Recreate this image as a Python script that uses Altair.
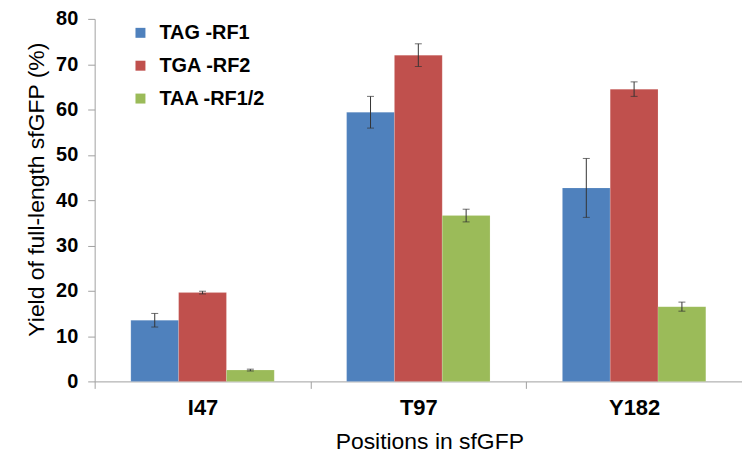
import altair as alt
import pandas as pd

positions = ["I47", "T97", "Y182"]
series = ["TAG -RF1", "TGA -RF2", "TAA -RF1/2"]
colors = ["#4F81BD", "#C0504D", "#9BBB59"]
values = {
    "TAG -RF1": [13.5, 59.4, 42.7],
    "TGA -RF2": [19.6, 72.0, 64.5],
    "TAA -RF1/2": [2.5, 36.6, 16.5],
}
errors = {
    "TAG -RF1": [1.5, 3.5, 6.5],
    "TGA -RF2": [0.3, 2.5, 1.6],
    "TAA -RF1/2": [0.2, 1.4, 1.0],
}

rows = []
for s in series:
    for i, p in enumerate(positions):
        v = values[s][i]
        e = errors[s][i]
        rows.append({"pos": p, "series": s, "value": v, "lo": v - e, "hi": v + e})
df = pd.DataFrame(rows)

FONT = "Liberation Sans"

x = alt.X("pos:N", sort=positions,
          scale=alt.Scale(paddingInner=0, paddingOuter=0),
          axis=alt.Axis(title="Positions in sfGFP", labelAngle=0, tickBand="extent",
                        labelFontSize=22, labelFontWeight="bold", labelColor="#000",
                        labelPadding=9, titleFontSize=23, titleFontWeight="normal",
                        titleColor="#000", titlePadding=12, titleX=336, tickSize=7,
                        domainColor="#A0A0A0", tickColor="#A0A0A0", grid=False,
                        labelFont=FONT, titleFont=FONT))
xoff = alt.XOffset("series:N", sort=series,
                   scale=alt.Scale(paddingOuter=0.757, paddingInner=0))

bars = alt.Chart(df).mark_bar(stroke="white", strokeOpacity=0.3, strokeWidth=0.5).encode(
    x=x,
    xOffset=xoff,
    y=alt.Y("value:Q", scale=alt.Scale(domain=[0, 80], nice=False),
            axis=alt.Axis(title="Yield of full-length sfGFP (%)", values=list(range(0, 81, 10)),
                          labelFontSize=20, labelFontWeight="bold", labelColor="#000",
                          labelPadding=10, titleFontSize=23, titleFontWeight="normal",
                          titleColor="#000", titlePadding=7, titleY=171, tickSize=7,
                          domainColor="#A0A0A0", tickColor="#A0A0A0", grid=False,
                          labelFont=FONT, titleFont=FONT)),
    color=alt.Color("series:N", sort=series,
                    scale=alt.Scale(domain=series, range=colors),
                    legend=alt.Legend(title=None, orient="none", legendX=36, legendY=4,
                                      symbolType="square", symbolSize=100,
                                      symbolStrokeWidth=0, labelFontSize=20,
                                      labelFontWeight="bold", labelFont=FONT,
                                      labelColor="#000", rowPadding=13, labelOffset=9)),
)

err = alt.Chart(df).mark_rule(color="#333", strokeWidth=1).encode(
    x=alt.X("pos:N", sort=positions),
    xOffset=xoff,
    y="lo:Q",
    y2="hi:Q",
)
cap_lo = alt.Chart(df).mark_tick(color="#333", thickness=1, size=7).encode(
    x=alt.X("pos:N", sort=positions),
    xOffset=xoff,
    y="lo:Q",
)
cap_hi = alt.Chart(df).mark_tick(color="#333", thickness=1, size=7).encode(
    x=alt.X("pos:N", sort=positions),
    xOffset=xoff,
    y="hi:Q",
)

chart = alt.layer(bars, err, cap_lo, cap_hi).properties(
    width=650, height=364,
    autosize=alt.AutoSizeParams(type="none"),
    padding={"left": 87, "top": 10, "right": 0, "bottom": 82},
).configure_view(stroke=None)

chart.save("out.html", embed_options={"renderer": "svg", "actions": False})
